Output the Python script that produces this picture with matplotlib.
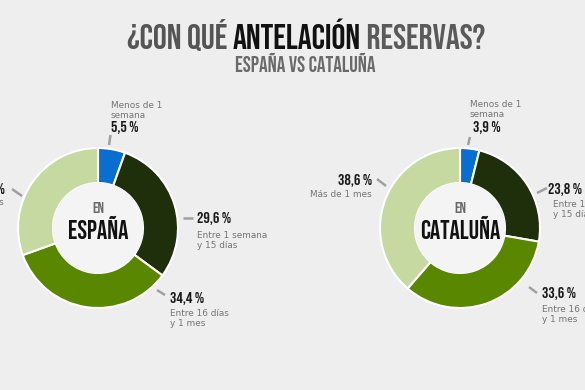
import matplotlib
matplotlib.use("Agg")
import matplotlib.pyplot as plt

# ---- data ----
categories = ["Menos de 1 semana", "Entre 1 semana y 15 días", "Entre 16 días y 1 mes", "Más de 1 mes"]
espana = [5.5, 29.6, 34.4, 30.5]
cataluna = [3.9, 23.8, 33.6, 38.6]
value_labels_es = ["5,5 %", "29,6 %", "34,4 %", "30,5 %"]
value_labels_ca = ["3,9 %", "23,8 %", "33,6 %", "38,6 %"]
desc_labels = ["Menos de 1\nsemana", "Entre 1 semana\ny 15 días", "Entre 16 días\ny 1 mes", "Más de 1 mes"]
colors = ["#0a6dd0", "#1f2e0b", "#5a8700", "#c6d9a0"]

W, H = 585, 390
BG = "#eeeeee"
HEAD = "Bebas Neue"
BODY = "DejaVu Sans"

fig = plt.figure(figsize=(W / 100, H / 100), dpi=100, facecolor=BG)
ax = fig.add_axes([0, 0, 1, 1])
ax.set_facecolor(BG)

def Y(y):
    return H - y

R = 80
WIDTH = 35

def donut(vals, cx, cy):
    ax.pie(vals, colors=colors, startangle=90, counterclock=False,
           center=(cx, Y(cy)), radius=R, frame=True,
           wedgeprops=dict(width=WIDTH, edgecolor="white", linewidth=1.5))
    hole = plt.Circle((cx, Y(cy)), R - WIDTH - 0.5, color="#f4f4f4", zorder=3)
    ax.add_patch(hole)

donut(espana, 98, 228)
donut(cataluna, 460, 228)
ax.set_xlim(0, W)
ax.set_ylim(0, H)
ax.set_aspect("equal")
ax.axis("off")

# ---- center texts ----
for cx, name in [(98, "ESPAÑA"), (460, "CATALUÑA")]:
    ax.text(cx, Y(213), "EN", ha="center", va="baseline", fontsize=11,
            family=HEAD, color="#6a6a6a", zorder=5)
    ax.text(cx, Y(239), name, ha="center", va="baseline", fontsize=18.5,
            family=HEAD, color="#111111", zorder=5)

# ---- labels ----
VAL_COLOR = "#1a1a1a"
DESC_COLOR = "#747474"
LINE_COLOR = "#a0a0a0"

def value(x, yb, s, ha="left"):
    ax.text(x, Y(yb), s, ha=ha, va="baseline", fontsize=11.5, family=HEAD,
            color=VAL_COLOR, zorder=5)

def desc(x, yb, s, ha="left"):
    for i, line in enumerate(s.split("\n")):
        ax.text(x, Y(yb + 10 * i), line, ha=ha, va="baseline", fontsize=6.4,
                family=BODY, color=DESC_COLOR, zorder=5)

def leader(x1, y1, x2, y2):
    ax.plot([x1, x2], [Y(y1), Y(y2)], color=LINE_COLOR, lw=1.8,
            solid_capstyle="butt", zorder=5)

# España
desc(111, 108, desc_labels[0])
value(111, 132, value_labels_es[0])
leader(109, 145, 110.5, 135)
value(197, 223, value_labels_es[1])
desc(197, 238, desc_labels[1])
leader(183, 218, 193, 218)
value(170, 303, value_labels_es[2])
desc(170, 316, desc_labels[2])
leader(157, 290, 165, 295)
value(5, 194, value_labels_es[3], ha="right")
desc(4, 205, desc_labels[3], ha="right")
leader(12, 189, 22, 196)

# Cataluña
desc(470, 107, desc_labels[0])
value(473, 132, value_labels_ca[0])
leader(468, 145, 470, 137)
value(372, 185, value_labels_ca[3], ha="right")
desc(372, 197, desc_labels[3], ha="right")
leader(377, 179, 386, 186)
value(548, 194, value_labels_ca[1])
desc(553, 207, desc_labels[1])
leader(537, 193, 547, 188)
value(542, 298, value_labels_ca[2])
desc(542, 312, desc_labels[2])
leader(529, 287, 537, 293)

# ---- title ----
fig.canvas.draw()
renderer = fig.canvas.get_renderer()
parts = [("¿CON QUÉ ", "#555555"), ("ANTELACIÓN", "#111111"), (" RESERVAS?", "#5a5a5a")]
texts = []
for s, c in parts:
    t = fig.text(0, 1 - 49 / H, s, ha="left", va="baseline", fontsize=25,
                 family=HEAD, color=c)
    texts.append(t)
widths = [t.get_window_extent(renderer).width for t in texts]
total = sum(widths)
x = (306 - total / 2)
for t, w in zip(texts, widths):
    t.set_x(x / W)
    x += w

fig.text(305 / W, 1 - 72 / H, "ESPAÑA VS CATALUÑA", ha="center", va="baseline",
         fontsize=15.5, family=HEAD, color="#6a6a6a")

fig.savefig("out.png", dpi=100, facecolor=BG)
